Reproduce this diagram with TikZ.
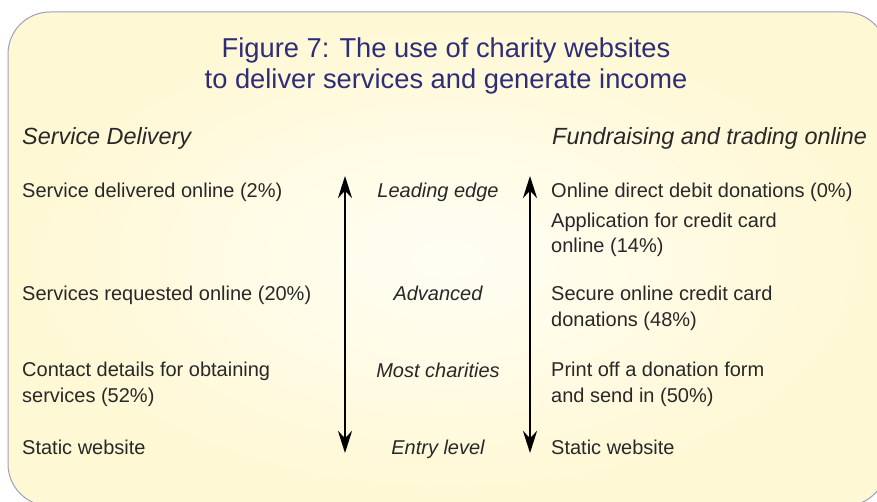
\documentclass[tikz,border=0pt]{standalone}
\usepackage{fontspec}
\setmainfont{Liberation Sans}
\usetikzlibrary{arrows.meta}
\definecolor{titleblue}{RGB}{46,45,122}
\definecolor{bodytext}{RGB}{40,40,40}
\definecolor{panelrim}{RGB}{160,158,190}
\definecolor{panelcore}{RGB}{255,254,244}
\definecolor{paneledge}{RGB}{255,248,212}

\begin{document}
\begin{tikzpicture}[x=1pt,y=-1pt,
  every node/.style={inner sep=0pt, text=bodytext},
  figtitle/.style={font=\fontsize{27.3}{31.5}\selectfont, text=titleblue, align=center, anchor=base},
  colhead/.style={font=\fontsize{23.4}{27}\selectfont\itshape, anchor=base west},
  item/.style={font=\fontsize{20}{25.5}\selectfont, anchor=base west, align=left},
  level/.style={font=\fontsize{20}{25.5}\selectfont\itshape, anchor=base},
  scalearrow/.style={draw=black, line width=2.6pt,
    {Stealth[length=22pt,width=14pt]}-{Stealth[length=22pt,width=14pt]}}
]
\useasboundingbox (0,0) rectangle (877,502);

% rounded yellow panel, running off the right and bottom edges
\begin{scope}
  \clip (0,0) rectangle (877,502);
  \path[draw=panelrim, line width=1pt, rounded corners=42pt,
        inner color=panelcore, outer color=paneledge]
    (8,12) rectangle (887,506);
\end{scope}

% title (anchored on the baseline of its last line)
\node[figtitle] (title) at (446,89)
  {Figure 7: The use of charity websites\\to deliver services and generate income};

% column headings
\node[colhead] (hservice) at (22,145) {Service Delivery};
\node[colhead] (hfund) at (552,145) {Fundraising and trading online};

% service delivery column
\node[item] (s1) at (22,198) {Service delivered online (2\%)};
\node[item] (s2) at (22,300) {Services requested online (20\%)};
\node[item] (s3) at (22,402) {Contact details for obtaining\\services (52\%)};
\node[item] (s4) at (22,454) {Static website};

% level labels
\node[level] (l1) at (438,198) {Leading edge};
\node[level] (l2) at (438,300) {Advanced};
\node[level] (l3) at (438,377) {Most charities};
\node[level] (l4) at (438,454) {Entry level};

% fundraising column
\node[item] (f1) at (551,198) {Online direct debit donations (0\%)};
\node[item] (f2) at (551,253) {Application for credit card\\online (14\%)};
\node[item] (f3) at (551,326) {Secure online credit card\\donations (48\%)};
\node[item] (f4) at (551,402) {Print off a donation form\\and send in (50\%)};
\node[item] (f5) at (551,454) {Static website};

% double-headed scale arrows
\coordinate (ltop) at (345,176);
\coordinate (lbot) at (345,453);
\coordinate (rtop) at (530,176);
\coordinate (rbot) at (530,453);
\draw[scalearrow] (ltop) -- (lbot);
\draw[scalearrow] (rtop) -- (rbot);
\end{tikzpicture}
\end{document}
